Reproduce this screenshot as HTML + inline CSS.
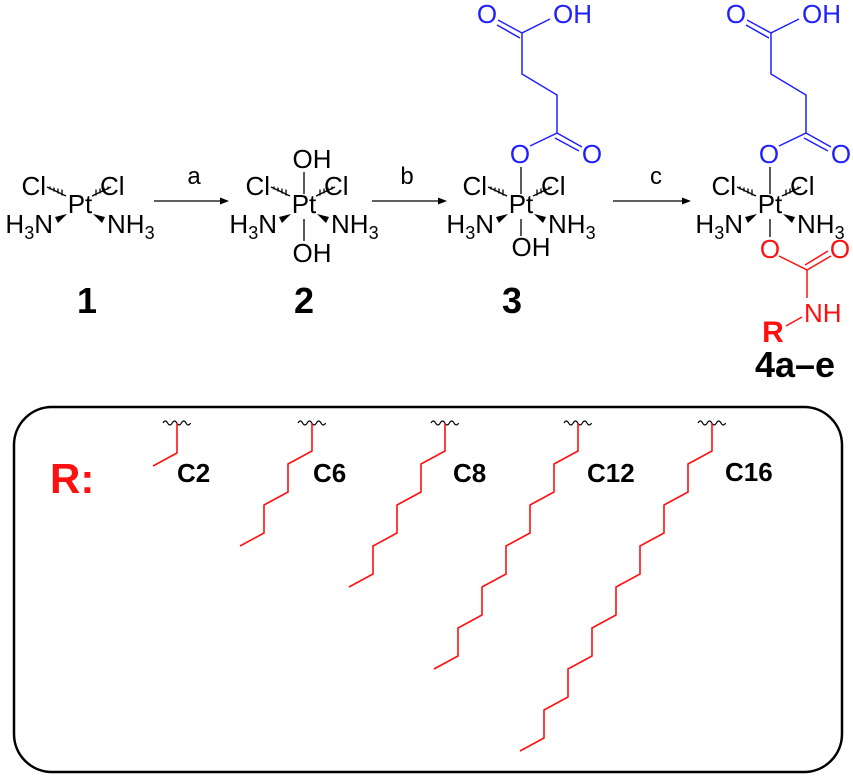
<!DOCTYPE html>
<html><head><meta charset="utf-8"><style>
html,body{margin:0;padding:0;background:#fff}
svg{display:block}
text{font-family:"Liberation Sans",sans-serif}
</style></head><body>
<svg width="853" height="776" viewBox="0 0 853 776" xmlns="http://www.w3.org/2000/svg">
<defs>
<g id="pt">
  <text x="0" y="213" font-size="26" text-anchor="middle">Pt</text>
  <text x="-34" y="195" font-size="26" text-anchor="end">Cl</text>
  <text x="20" y="195" font-size="26">Cl</text>
  <text x="-27" y="233" font-size="26" text-anchor="end">H<tspan font-size="18" dy="6">3</tspan><tspan dy="-6">N</tspan></text>
  <text x="27" y="233" font-size="26">NH<tspan font-size="18" dy="6">3</tspan></text>
  <path d="M-33,187 l19,9 M-30,189.5 v-3 M-26,191.5 v-4 M-22,193.5 v-5 M-18,195.5 v-6" stroke="#000" stroke-width="1.3"/>
  <path d="M31,187 l-19,9 M28,189.5 v-3 M24,191.5 v-4 M20,193.5 v-5 M16,195.5 v-6" stroke="#000" stroke-width="1.3"/>
  <path d="M-13,214 L-25,217 L-22,223 Z M13,214 L25,217 L22,223 Z" fill="#000"/>
</g>
</defs>

<use href="#pt" x="80"/>
<text x="87" y="313" font-size="36" font-weight="bold" text-anchor="middle">1</text>

<line x1="154" y1="201" x2="222" y2="201" stroke="#000" stroke-width="1.3"/>
<path d="M229,201 l-9,-3.5 v7 z" fill="#000"/>
<text x="194" y="184" font-size="24" text-anchor="middle">a</text>

<use href="#pt" x="304"/>
<line x1="304" y1="172" x2="304" y2="194" stroke="#000" stroke-width="1.3"/>
<line x1="304" y1="219" x2="304" y2="241" stroke="#000" stroke-width="1.3"/>
<text x="312" y="168" font-size="26" text-anchor="middle">OH</text>
<text x="312" y="262" font-size="26" text-anchor="middle">OH</text>
<text x="304" y="313" font-size="36" font-weight="bold" text-anchor="middle">2</text>

<line x1="372" y1="201" x2="440" y2="201" stroke="#000" stroke-width="1.3"/>
<path d="M447,201 l-9,-3.5 v7 z" fill="#000"/>
<text x="407" y="184" font-size="24" text-anchor="middle">b</text>

<use href="#pt" x="521"/>
<line x1="521" y1="167" x2="521" y2="194" stroke="#000" stroke-width="1.3"/>
<line x1="521" y1="219" x2="521" y2="236" stroke="#000" stroke-width="1.3"/>
<text x="531" y="256" font-size="26" text-anchor="middle">OH</text>
<text x="512" y="313" font-size="36" font-weight="bold" text-anchor="middle">3</text>
<g stroke="#2020ff" stroke-width="1.5" fill="none">
  <path d="M530,146 L557,133 L557,95 L522,74 L522,33 L550,19"/>
  <path d="M557,133 L582,147 M555,138 L579,151"/>
  <path d="M522,33 L498,20 M520,38 L497,25"/>
</g>
<g fill="#2020ff" font-size="26">
  <text x="520" y="163" text-anchor="middle">O</text>
  <text x="592" y="163" text-anchor="middle">O</text>
  <text x="487" y="23" text-anchor="middle">O</text>
  <text x="553" y="23">OH</text>
</g>

<line x1="613" y1="201" x2="684" y2="201" stroke="#000" stroke-width="1.3"/>
<path d="M691,201 l-9,-3.5 v7 z" fill="#000"/>
<text x="656" y="184" font-size="24" text-anchor="middle">c</text>

<use href="#pt" x="770"/>
<line x1="770" y1="167" x2="770" y2="194" stroke="#000" stroke-width="1.3"/>
<line x1="770" y1="219" x2="770" y2="237" stroke="#000" stroke-width="1.3"/>
<g stroke="#2020ff" stroke-width="1.5" fill="none">
  <path d="M779,146 L806,133 L806,95 L771,74 L771,33 L799,19"/>
  <path d="M806,133 L831,147 M804,138 L828,151"/>
  <path d="M771,33 L747,20 M769,38 L746,25"/>
</g>
<g fill="#2020ff" font-size="26">
  <text x="769" y="163" text-anchor="middle">O</text>
  <text x="841" y="163" text-anchor="middle">O</text>
  <text x="736" y="23" text-anchor="middle">O</text>
  <text x="802" y="23">OH</text>
</g>
<g stroke="#ff1010" stroke-width="1.5" fill="none">
  <path d="M779,256 L807,270 L807,298"/>
  <path d="M807,270 L831,256 M805,265 L828,251"/>
  <path d="M786,326 L802,317"/>
</g>
<g fill="#ff1010" font-size="26">
  <text x="770" y="258" text-anchor="middle">O</text>
  <text x="840" y="258" text-anchor="middle">O</text>
  <text x="804" y="322">NH</text>
  <text x="773" y="342" font-size="30" font-weight="bold" text-anchor="middle">R</text>
</g>
<text x="795" y="377" font-size="36" font-weight="bold" text-anchor="middle">4a–e</text>

<rect x="14" y="407" width="828" height="365" rx="38" ry="38" fill="none" stroke="#000" stroke-width="2.5"/>
<text x="50" y="493" font-size="42" font-weight="bold" fill="#ff1010">R:</text>

<g fill="none" stroke="#000" stroke-width="1.2">
  <path id="wv" d="M163,423 q2.3,-4 4.6,0 t4.6,0 t4.6,0 t4.6,0 t4.6,0 t4.6,0"/>
  <use href="#wv" x="135"/>
  <use href="#wv" x="268"/>
  <use href="#wv" x="401"/>
  <use href="#wv" x="535"/>
</g>
<g fill="none" stroke="#ff1010" stroke-width="1.6">
  <path d="M177,423 v30 l-24,13"/>
  <path d="M312,423 v28 l-24,13 v28 l-24,13 v28 l-24,13"/>
  <path d="M445,423 v28 l-24,13 v28 l-24,13 v28 l-24,13 v28 l-24,13"/>
  <path d="M578,423 v28 l-24,13 v28 l-24,13 v28 l-24,13 v28 l-24,13 v28 l-24,13 v28 l-24,13"/>
  <path d="M712,423 v28 l-24,13 v28 l-24,13 v28 l-24,13 v28 l-24,13 v28 l-24,13 v28 l-24,13 v28 l-24,13 v28 l-24,13"/>
</g>
<g font-size="26" font-weight="bold">
  <text x="177" y="482">C2</text>
  <text x="313" y="482">C6</text>
  <text x="453" y="482">C8</text>
  <text x="587" y="482">C12</text>
  <text x="725" y="481">C16</text>
</g>
</svg>
</body></html>
